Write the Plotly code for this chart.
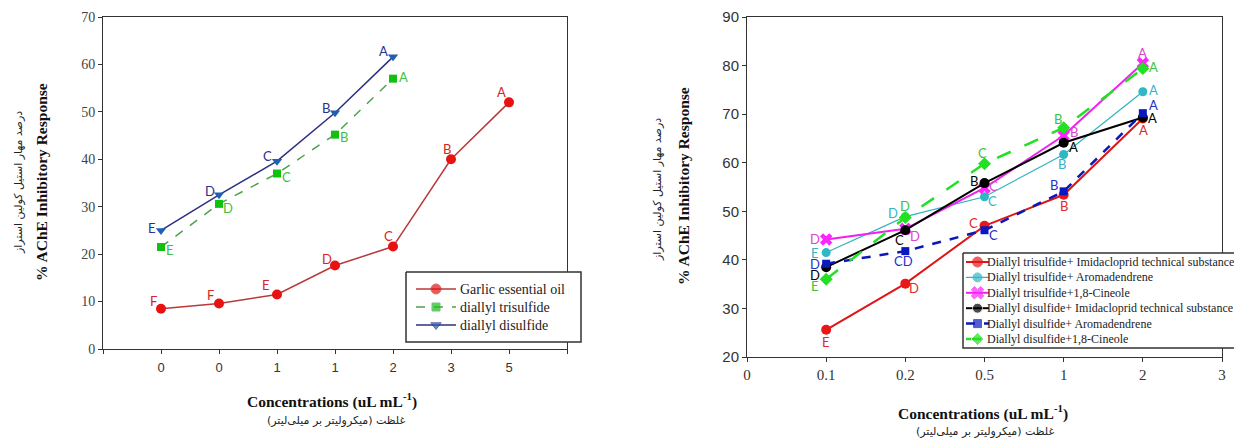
import plotly.graph_objects as go

# ---------------- data ----------------
left_ticks = ["0", "0", "1", "1", "2", "3", "5"]
garlic = [8.5, 9.6, 11.5, 17.6, 21.6, 40.0, 52.0]
garlic_letters = ["F", "F", "E", "D", "C", "B", "A"]
trisulfide = [21.5, 30.6, 37.0, 45.2, 57.0]
trisulfide_letters = ["E", "D", "C", "B", "A"]
disulfide = [25.0, 32.5, 39.6, 49.8, 61.6]
disulfide_letters = ["E", "D", "C", "B", "A"]
left_names = ["Garlic essential oil", "diallyl trisulfide", "diallyl disulfide"]

right_ticks = ["0", "0.1", "0.2", "0.5", "1", "2", "3"]
tri_imi = [25.6, 35.1, 47.0, 53.4, 69.1]
tri_imi_letters = ["E", "D", "C", "B", "A"]
tri_aro = [41.5, 48.9, 53.0, 61.7, 74.6]
tri_aro_letters = ["E", "D", "C", "B", "A"]
tri_cin = [44.2, 46.4, 54.8, 65.6, 80.5]
tri_cin_letters = ["D", "D", "C", "B", "A"]
di_imi = [38.5, 46.1, 55.8, 64.1, 69.3]
di_imi_letters = ["D", "C", "B", "A", "A"]
di_aro = [39.2, 41.8, 46.1, 54.1, 70.2]
di_aro_letters = ["D", "CD", "C", "B", "A"]
di_cin = [36.0, 48.7, 59.8, 67.2, 79.4]
di_cin_letters = ["E", "D", "C", "B", "A"]
right_names = [
    "Diallyl trisulfide+ Imidacloprid technical substance",
    "Diallyl trisulfide+ Aromadendrene",
    "Diallyl trisulfide+1,8-Cineole",
    "Diallyl disulfide+ Imidacloprid technical substance",
    "Diallyl disulfide+ Aromadendrene",
    "Diallyl disulfide+1,8-Cineole",
]

# ---------------- styles ----------------
W, H = 1234, 441
SERIF = "Liberation Serif, Times New Roman, serif"
SANS = "Liberation Sans, Arial, sans-serif"
LETTER = "Lato"

left_styles = [
    dict(line=dict(color="#b83a3a", width=1.5), marker=dict(symbol="circle", size=10, color="#e81212"),
         lcolor="#d42525", off=[(-8, 8), (-9, 8), (-11, 9), (-8, 7), (-5, 11), (-4, 10), (-8, 10)]),
    dict(line=dict(color="#4ca24c", width=1.5, dash="dash"), marker=dict(symbol="square", size=8, color="#12c012"),
         lcolor="#3fbf3f", off=[(9, -3), (9, -4), (9, -3), (9, -2), (10, 2)]),
    dict(line=dict(color="#2b3080", width=1.5), marker=dict(symbol="triangle-down", size=9, color="#2060b0"),
         lcolor="#2a2f90", off=[(-9, 2), (-9, 4), (-10, 5), (-9, 5), (-10, 6)]),
]
right_styles = [
    dict(line=dict(color="#e01515", width=2), marker=dict(symbol="circle", size=10, color="#e81818"),
         lcolor="#e02a2a", off=[(0, -12), (9, -4), (-11, 3), (0, -11), (1, -11)]),
    dict(line=dict(color="#2fb3bd", width=1.2), marker=dict(symbol="circle", size=9, color="#2fb8c2"),
         lcolor="#35b5c5", off=[(-11, 0), (-12, 4), (8, -4), (-2, -10), (11, 2)]),
    dict(line=dict(color="#f020f0", width=2), marker=dict(symbol="x", size=11, color="#ff25ff"),
         lcolor="#d848c8", off=[(-11, 0), (10, -7), (9, 2), (10, 4), (0, 10)]),
    dict(line=dict(color="#000000", width=2), marker=dict(symbol="circle", size=10, color="#000000"),
         lcolor="#000000", off=[(-11, -8), (-6, -10), (-11, 2), (10, -4), (10, 0)]),
    dict(line=dict(color="#0a18b8", width=2.5, dash="dash"), marker=dict(symbol="square", size=8, color="#0a18c0"),
         lcolor="#2530c8", off=[(-11, 0), (-2, -10), (9, -5), (-10, 6), (11, 8)]),
    dict(line=dict(color="#22e022", width=2.5, dash="longdash"), marker=dict(symbol="diamond", size=10, color="#22e022"),
         lcolor="#3cc43c", off=[(-11, -7), (0, 12), (-2, 11), (-6, 9), (11, 1)]),
]

left_series = [(garlic, garlic_letters), (trisulfide, trisulfide_letters), (disulfide, disulfide_letters)]
right_series = [(tri_imi, tri_imi_letters), (tri_aro, tri_aro_letters), (tri_cin, tri_cin_letters),
                (di_imi, di_imi_letters), (di_aro, di_aro_letters), (di_cin, di_cin_letters)]

fig = go.Figure()
annotations = []


def add_series(series, styles, names, xa, ya):
    for (vals, letters), st, name in zip(series, styles, names):
        xs = list(range(1, len(vals) + 1))
        fig.add_trace(go.Scatter(x=xs, y=vals, mode="lines+markers", name=name, showlegend=False,
                                 line=st["line"], marker=st["marker"], xaxis=xa, yaxis=ya, cliponaxis=False))
        for x, y, t, (dx, dy) in zip(xs, vals, letters, st["off"]):
            annotations.append(dict(x=x, y=y, xref=xa, yref=ya, text=t, showarrow=False,
                                    xshift=dx, yshift=dy, font=dict(family=LETTER, size=13, color=st["lcolor"])))


add_series(left_series, left_styles, left_names, "x", "y")
add_series(right_series, right_styles, right_names, "x2", "y2")

# ---------------- legends (drawn in a pixel overlay) ----------------
def px(v):
    return v / W


def py(v):
    return 1 - v / H


def draw_legend(names, styles, box, row0, dy, x_line, line_len, x_text, fsize):
    x0, y0, x1, y1 = box
    fig.add_trace(go.Scatter(x=[x0, x1, x1, x0, x0], y=[y0, y0, y1, y1, y0], mode="lines", fill="toself",
                             fillcolor="white", line=dict(color="#333333", width=1.5),
                             xaxis="x3", yaxis="y3", showlegend=False, hoverinfo="skip"))
    for i, (name, st) in enumerate(zip(names, styles)):
        yy = row0 + i * dy
        ln = dict(st["line"])
        fig.add_trace(go.Scatter(x=[x_line, x_line + line_len / 2, x_line + line_len], y=[yy, yy, yy],
                                 mode="lines+markers", line=ln,
                                 marker=dict(st["marker"], size=[0, st["marker"]["size"], 0]),
                                 xaxis="x3", yaxis="y3", showlegend=False, hoverinfo="skip"))
        annotations.append(dict(x=px(x_text), y=py(yy), xref="paper", yref="paper", text=name,
                                showarrow=False, xanchor="left", yanchor="middle",
                                font=dict(family=SERIF, size=fsize, color="#222222")))


draw_legend(left_names, left_styles, (406, 272, 581, 342), 289, 18, 416, 40, 458, 14)
draw_legend(right_names, right_styles, (963, 253, 1300, 348), 262, 15.4, 966, 23, 985, 12)

# ---------------- axis titles ----------------
title_font = dict(family=SERIF, size=15.5, color="#111111")
fa_font = dict(family="DejaVu Sans", size=11, color="#222222")
annotations += [
    dict(x=px(41), y=py(182), text="<b>% AChE Inhibitory Response</b>", textangle=-90, font=title_font),
    dict(x=px(18), y=py(183), text="درصد مهار استیل کولین استراز", textangle=-90, font=fa_font),
    dict(x=px(332), y=py(400), text="<b>Concentrations (uL mL<sup>-1</sup>)</b>", font=title_font),
    dict(x=px(336), y=py(420), text="غلظت (میکرولیتر بر میلی‌لیتر)", font=fa_font),
    dict(x=px(683), y=py(186), text="<b>% AChE Inhibitory Response</b>", textangle=-90, font=title_font),
    dict(x=px(658), y=py(190), text="درصد مهار استیل کولین استراز", textangle=-90, font=fa_font),
    dict(x=px(983), y=py(412), text="<b>Concentrations (uL mL<sup>-1</sup>)</b>", font=title_font),
    dict(x=px(985), y=py(431), text="غلظت (میکرولیتر بر میلی‌لیتر)", font=fa_font),
]
for a in annotations[-8:]:
    a.update(xref="paper", yref="paper", showarrow=False, xanchor="center", yanchor="middle")

axis_common = dict(showgrid=False, zeroline=False, showline=True, linecolor="#333333", linewidth=1,
                   ticks="outside", ticklen=4, tickcolor="#333333", mirror=True)

fig.update_layout(
    width=W, height=H, margin=dict(l=0, r=0, t=0, b=0, autoexpand=False),
    paper_bgcolor="white", plot_bgcolor="rgba(0,0,0,0)", showlegend=False,
    xaxis=dict(axis_common, domain=[px(103), px(567)], range=[0, len(left_ticks) + 1],
               tickvals=list(range(len(left_ticks) + 2)), ticktext=[""] + left_ticks + [""],
               tickfont=dict(family=SANS, size=13, color="#333333"), ticklabelstandoff=2, anchor="y"),
    yaxis=dict(axis_common, domain=[py(349), py(17)], range=[0, 70], dtick=10,
               tickfont=dict(family=SERIF, size=14, color="#444444"), anchor="x"),
    xaxis2=dict(axis_common, domain=[px(747), px(1222)], range=[0, len(right_ticks) - 1],
                tickvals=list(range(len(right_ticks))), ticktext=right_ticks,
                tickfont=dict(family=SERIF, size=15, color="#333333"), anchor="y2"),
    yaxis2=dict(axis_common, domain=[py(357), py(17)], range=[20, 90], dtick=10,
                tickfont=dict(family=SANS, size=15, color="#333333"), anchor="x2"),
    xaxis3=dict(domain=[0, 1], range=[0, W], visible=False, fixedrange=True, anchor="y3"),
    yaxis3=dict(domain=[0, 1], range=[H, 0], visible=False, fixedrange=True, anchor="x3"),
    annotations=annotations,
)

fig.write_html("out.html", config={"displayModeBar": False},
               post_script="document.body.style.margin='0px';document.body.style.overflow='hidden';")
